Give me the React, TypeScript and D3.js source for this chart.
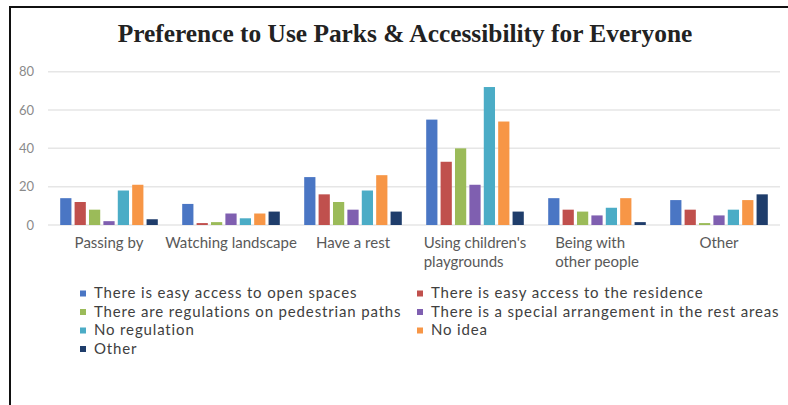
import React, { useEffect, useRef } from "react";
import * as d3 from "d3";

const categories: string[][] = [
  ["Passing by"],
  ["Watching landscape"],
  ["Have a rest"],
  ["Using children's", "playgrounds"],
  ["Being with", "other people"],
  ["Other"],
];

const seriesNames = [
  "There is easy access to open spaces",
  "There is easy access to the residence",
  "There are regulations on pedestrian paths",
  "There is a special arrangement in the rest areas",
  "No regulation",
  "No idea",
  "Other",
];

const seriesColors = ["#4a76c4", "#c0504d", "#9bbb59", "#7f5fb0", "#4bacc6", "#f79646", "#1f3d6b"];

// values[seriesIndex][categoryIndex]
const openSpaces = [14, 11, 25, 55, 14, 13];
const residence = [12, 1, 16, 33, 8, 8];
const pedestrian = [8, 1.5, 12, 40, 7, 1];
const restAreas = [2, 6, 8, 21, 5, 5];
const noRegulation = [18, 3.5, 18, 72, 9, 8];
const noIdea = [21, 6, 26, 54, 14, 13];
const otherSeries = [3, 7, 7, 7, 1.5, 16];
const values = [openSpaces, residence, pedestrian, restAreas, noRegulation, noIdea, otherSeries];

const yTicks = [0, 20, 40, 60, 80];
const title = "Preference to Use Parks & Accessibility for Everyone";

const W = 788;
const H = 405;

export default function App() {
  const ref = useRef<SVGSVGElement>(null);

  useEffect(() => {
    const svg = d3.select(ref.current);
    svg.selectAll("*").remove();

    // frame
    svg.append("path")
      .attr("d", `M10,${H + 5} L10,7 L${W + 5},7`)
      .attr("fill", "none")
      .attr("stroke", "#111")
      .attr("stroke-width", 2);

    svg.append("text")
      .attr("x", 405)
      .attr("y", 42)
      .attr("text-anchor", "middle")
      .attr("font-family", "'Liberation Serif', 'Times New Roman', serif")
      .attr("font-weight", "bold")
      .attr("font-size", 25.4)
      .attr("fill", "#222")
      .text(title);

    const left = 48, right = 780, top = 71.7, bottom = 225;
    const y = d3.scaleLinear().domain([0, 80]).range([bottom, top]);
    const x0 = d3.scaleBand<number>().domain(d3.range(categories.length)).range([left, right]).paddingInner(0.2).paddingOuter(0.1);
    const x1 = d3.scaleBand<number>().domain(d3.range(seriesNames.length)).range([0, x0.bandwidth()]).paddingInner(0.22);

    const grid = svg.append("g");
    yTicks.forEach((t) => {
      grid.append("line")
        .attr("x1", left).attr("x2", right)
        .attr("y1", y(t)).attr("y2", y(t))
        .attr("stroke", "#e6e6e6").attr("stroke-width", 1.5);
      grid.append("text")
        .attr("x", 34).attr("y", y(t)).attr("dy", "0.35em")
        .attr("text-anchor", "end")
        .attr("font-family", "Lato, sans-serif")
        .attr("font-size", 13)
        .attr("fill", "#8a8a8a")
        .text(String(t));
    });

    const bars = svg.append("g");
    values.forEach((arr, s) => {
      arr.forEach((v, c) => {
        bars.append("rect")
          .attr("x", (x0(c) as number) + (x1(s) as number))
          .attr("y", y(v))
          .attr("width", x1.bandwidth())
          .attr("height", y(0) - y(v))
          .attr("fill", seriesColors[s]);
      });
    });

    // category labels
    const lab = svg.append("g");
    categories.forEach((lines, c) => {
      const cx = (x0(c) as number) + x0.bandwidth() / 2;
      const g = lab.append("g");
      const texts = lines.map((ln, i) =>
        g.append("text")
          .attr("y", 248 + i * 19)
          .attr("font-family", "Lato, sans-serif")
          .attr("font-size", 15)
          .attr("fill", "#595959")
          .text(ln)
      );
      const widths = texts.map((t) => (t.node() as SVGTextElement).getComputedTextLength());
      const maxW = d3.max(widths) as number;
      texts.forEach((t) => t.attr("x", cx - maxW / 2));
    });

    // legend
    const leg = svg.append("g");
    const colX = [80, 417];
    seriesNames.forEach((name, i) => {
      const col = i % 2;
      const row = Math.floor(i / 2);
      const cy = 293 + row * 18.5;
      leg.append("rect")
        .attr("x", colX[col]).attr("y", cy - 2.5)
        .attr("width", 6).attr("height", 6)
        .attr("fill", seriesColors[i]);
      leg.append("text")
        .attr("x", colX[col] + 14).attr("y", cy).attr("dy", "0.35em")
        .attr("font-family", "Lato, sans-serif")
        .attr("font-size", 15)
        .attr("letter-spacing", 0.85)
        .attr("fill", "#404040")
        .text(name);
    });
  }, []);

  return (
    <svg
      ref={ref}
      width={W}
      height={H}
      style={{ position: "absolute", left: 0, top: 0, background: "#fff" }}
    />
  );
}
